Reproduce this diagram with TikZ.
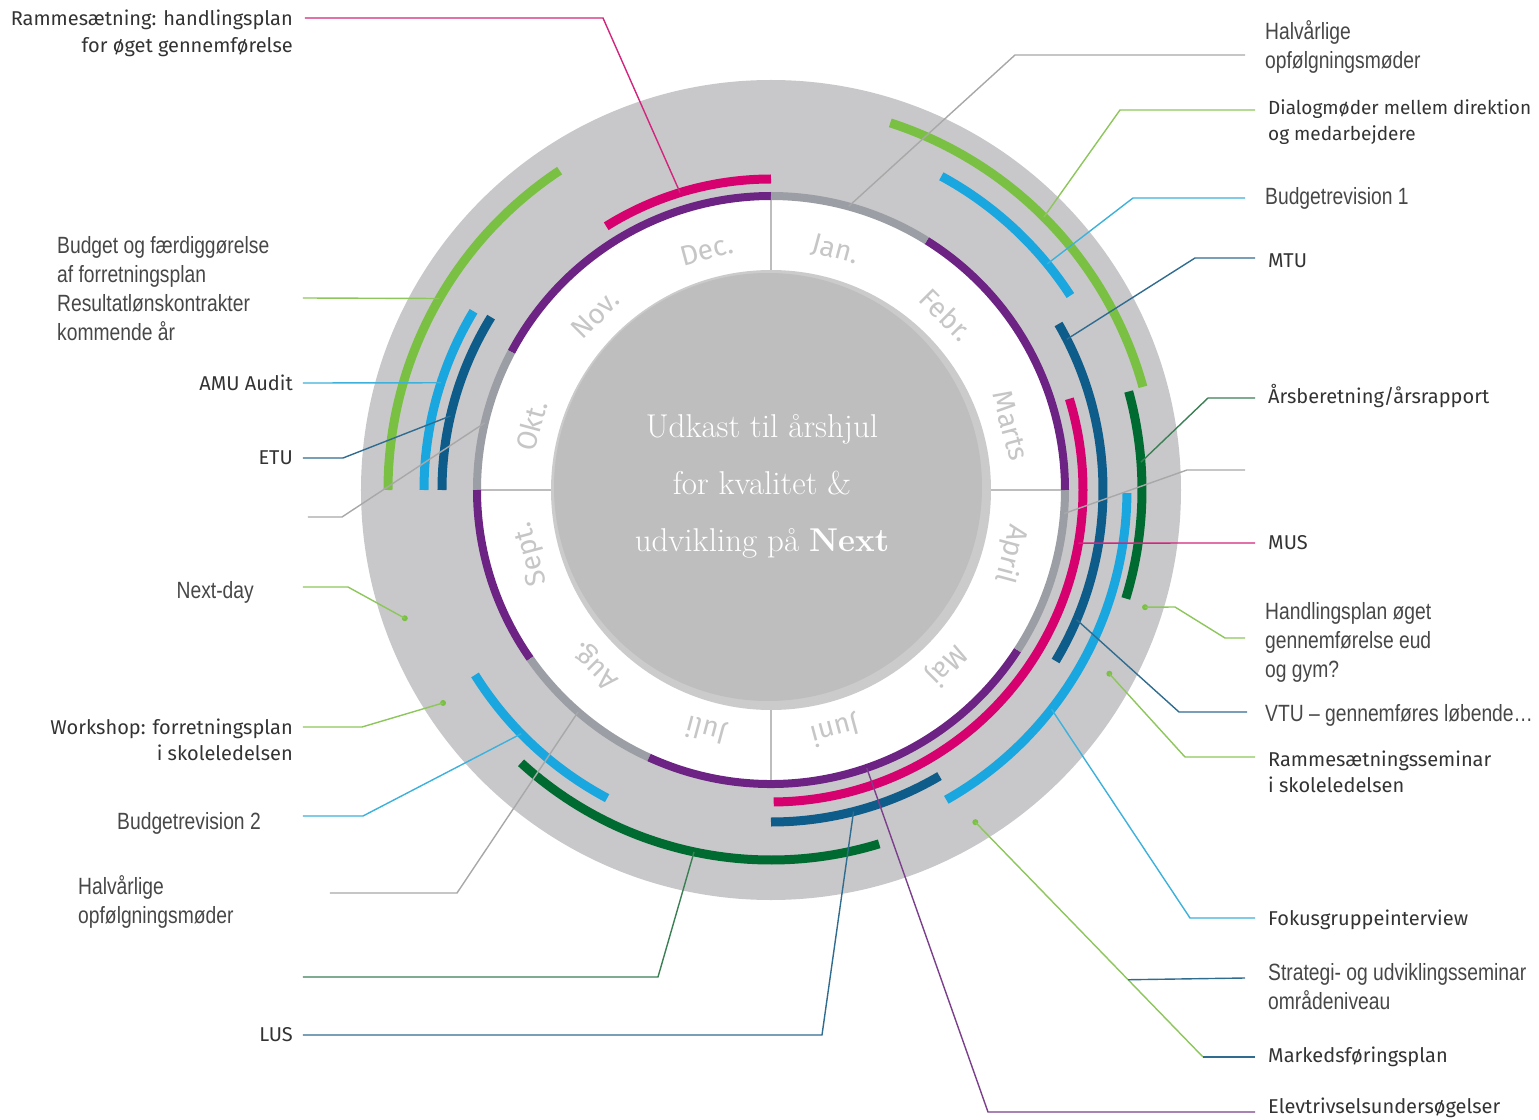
\documentclass[tikz,border=0pt]{standalone}
\usepackage{fontspec}
\usepackage{xcolor}
\usetikzlibrary{positioning,calc}

\newfontfamily\dinfont{Fira Sans}
\newfontfamily\narrowfont[FakeStretch=0.82]{Liberation Sans}

\definecolor{wheelgray}{HTML}{C8C8CA}
\definecolor{rimgray}{HTML}{CBCBCB}
\definecolor{diskgray}{HTML}{BEBEBE}
\definecolor{divgray}{HTML}{BDBDBD}
\definecolor{monthtext}{HTML}{C6C6C6}
\definecolor{dintext}{HTML}{333333}
\definecolor{narrowtext}{HTML}{474747}
\definecolor{mpurple}{HTML}{6C2383}
\definecolor{mgray}{HTML}{9B9EA5}
\definecolor{lgreen}{HTML}{7AC143}
\definecolor{lblue}{HTML}{1AA7DF}
\definecolor{dblue}{HTML}{0E5C8A}
\definecolor{magenta}{HTML}{D6006E}
\definecolor{dgreen}{HTML}{006B30}
\definecolor{lgreenL}{HTML}{8DC65A}
\definecolor{lblueL}{HTML}{3CB1DB}
\definecolor{dblueL}{HTML}{2F6C90}
\definecolor{magentaL}{HTML}{D2257D}
\definecolor{dgreenL}{HTML}{3B7F55}
\definecolor{grayL}{HTML}{A8A8A8}
\definecolor{purpleL}{HTML}{7B3F8C}

\begin{document}
\begin{tikzpicture}[x=1pt,y=1pt,
	arcline/.style={line width=9pt},
	ringline/.style={line width=8pt},
	leader/.style={line width=1.4pt},
	divider/.style={draw=divgray,line width=1.2pt},
	dinlbl/.style={font=\dinfont\fontsize{20}{26.5}\selectfont,text=dintext,inner sep=0pt},
	narrowlbl/.style={font=\narrowfont\fontsize{23.5}{29}\selectfont,text=narrowtext,inner sep=0pt},
	monthlbl/.style={font=\dinfont\fontsize{28}{28}\selectfont,text=monthtext,inner sep=0pt},
	centertxt/.style={font=\fontsize{33}{57}\selectfont,text=white,align=center,inner sep=0pt},
	dot/.style={circle,fill=lgreen,inner sep=0pt,minimum size=6pt}]
	\useasboundingbox (-771,-629) rectangle (768,490);

	\fill[wheelgray] (0,0) circle (410pt);
	\fill[white] (0,0) circle (294pt);
	\fill[rimgray] (0,0) circle (220pt);
	\fill[diskgray] (-3,3) circle (214pt);
	\draw[divider] (0,220) -- (0,290);
	\draw[divider] (0,-220) -- (0,-290);
	\draw[divider] (220,0) -- (290,0);
	\draw[divider] (-220,0) -- (-290,0);

	\draw[ringline,mpurple] (90:294pt) arc (90:152:294pt);
	\draw[ringline,mgray] (152:294pt) arc (152:180:294pt);
	\draw[ringline,mpurple] (180:294pt) arc (180:215:294pt);
	\draw[ringline,mgray] (215:294pt) arc (215:245.5:294pt);
	\draw[ringline,mpurple] (245.5:294pt) arc (245.5:327:294pt);
	\draw[ringline,mgray] (-33:294pt) arc (-33:0:294pt);
	\draw[ringline,mpurple] (0:294pt) arc (0:58:294pt);
	\draw[ringline,mgray] (58:294pt) arc (58:90:294pt);

	\node[monthlbl,rotate=-15] (m_jan) at (75:248pt) {Jan.};
	\node[monthlbl,rotate=-45] (m_feb) at (45:248pt) {Febr.};
	\node[monthlbl,rotate=-75] (m_mar) at (15:248pt) {Marts};
	\node[monthlbl,rotate=-105] (m_apr) at (-15:248pt) {April};
	\node[monthlbl,rotate=-135] (m_maj) at (-45:248pt) {Maj};
	\node[monthlbl,rotate=-165] (m_jun) at (-75:248pt) {Juni};
	\node[monthlbl,rotate=165] (m_jul) at (-105:248pt) {Juli};
	\node[monthlbl,rotate=135] (m_aug) at (-135:248pt) {Aug.};
	\node[monthlbl,rotate=105] (m_sep) at (-165:248pt) {Sept.};
	\node[monthlbl,rotate=75] (m_okt) at (165:248pt) {Okt.};
	\node[monthlbl,rotate=45] (m_nov) at (135:248pt) {Nov.};
	\node[monthlbl,rotate=15] (m_dec) at (105:248pt) {Dec.};

	\node[centertxt] (title) at (-9,4) {Udkast til årshjul\\for kvalitet \&\\udvikling på \textbf{Next}};

	\draw[arcline,lgreen] (72:386pt) arc (72:15.5:386pt);
	\draw[arcline,lblue] (61.5:357pt) arc (61.5:33:357pt);
	\draw[arcline,dblue] (30:332pt) arc (30:-31:332pt);
	\draw[arcline,magenta] (17:312pt) arc (17:-89.5:312pt);
	\draw[arcline,dgreen] (15.4:371pt) arc (15.4:-17:371pt);
	\draw[arcline,lblue] (-0.5:356pt) arc (-0.5:-60.5:356pt);
	\draw[arcline,dblue] (-59.5:332pt) arc (-59.5:-90:332pt);
	\draw[arcline,lblue] (212:349pt) arc (212:242:349pt);
	\draw[arcline,dgreen] (227.5:370pt) arc (227.5:287:370pt);
	\draw[arcline,lgreen] (123.5:383pt) arc (123.5:180:383pt);
	\draw[arcline,lblue] (149:347pt) arc (149:180:347pt);
	\draw[arcline,dblue] (148.3:329pt) arc (148.3:180:329pt);
	\draw[arcline,magenta] (90:311pt) arc (90:122:311pt);

	\coordinate (s_halv_r) at (474,435);
	\coordinate (k_halv_r) at (244,435);
	\coordinate (a_halv_r) at (74.7:294pt);
	\node[narrowlbl,align=left] (t_halv_r) [right=20pt of s_halv_r,yshift=8.5pt] {Halvårlige\\opfølgningsmøder};
	\draw[leader,grayL] (s_halv_r) -- (k_halv_r) -- (a_halv_r);

	\coordinate (s_dialog) at (484,380);
	\coordinate (k_dialog) at (349,380);
	\coordinate (a_dialog) at (45:386pt);
	\node[dinlbl,align=left,font=\dinfont\fontsize{19}{26.5}\selectfont] (t_dialog) [right=13pt of s_dialog,yshift=-12pt] {Dialogmøder mellem direktion\\og medarbejdere};
	\draw[leader,lgreenL] (s_dialog) -- (k_dialog) -- (a_dialog);

	\coordinate (s_budrev1) at (474,292);
	\coordinate (k_budrev1) at (362,292);
	\coordinate (a_budrev1) at (39.3:357pt);
	\node[narrowlbl] (t_budrev1) [right=20pt of s_budrev1] {Budgetrevision 1};
	\draw[leader,lblueL] (s_budrev1) -- (k_budrev1) -- (a_budrev1);

	\coordinate (s_mtu) at (484,232);
	\coordinate (k_mtu) at (424,232);
	\coordinate (a_mtu) at (27:332pt);
	\node[dinlbl] (t_mtu) [right=13pt of s_mtu,yshift=-3pt] {MTU};
	\draw[leader,dblueL] (s_mtu) -- (k_mtu) -- (a_mtu);

	\coordinate (s_aars) at (484,92);
	\coordinate (k_aars) at (437,92);
	\coordinate (a_aars) at (4.3:371pt);
	\node[dinlbl] (t_aars) [right=13pt of s_aars,yshift=2pt] {Årsberetning/årsrapport};
	\draw[leader,dgreenL] (s_aars) -- (k_aars) -- (a_aars);

	\coordinate (s_gray_r) at (474,20);
	\coordinate (k_gray_r) at (416,20);
	\coordinate (a_gray_r) at (-4.6:294pt);
	\draw[leader,grayL] (s_gray_r) -- (k_gray_r) -- (a_gray_r);

	\coordinate (s_mus) at (484,-53);
	\coordinate (a_mus) at (-9.8:312pt);
	\node[dinlbl] (t_mus) [right=13pt of s_mus] {MUS};
	\draw[leader,magentaL] (s_mus) -- (a_mus);

	\node[dot] (d_handl) at (-17.4:392pt) {};
	\coordinate (s_handl) at (474,-148);
	\coordinate (k_handl) at (454,-148);
	\coordinate (j_handl) at (404,-117);
	\node[narrowlbl,align=left] (t_handl) [right=20pt of s_handl,yshift=-4pt] {Handlingsplan øget\\gennemførelse eud\\og gym?};
	\draw[leader,lgreenL] (s_handl) -- (k_handl) -- (j_handl) -- (d_handl.center);

	\coordinate (s_vtu) at (476,-222);
	\coordinate (k_vtu) at (408,-222);
	\coordinate (a_vtu) at (-23:332pt);
	\node[narrowlbl] (t_vtu) [right=18pt of s_vtu,yshift=-3pt] {VTU – gennemføres løbende…};
	\draw[leader,dblueL] (s_vtu) -- (k_vtu) -- (a_vtu);

	\node[dot] (d_rsem) at (-28.5:385pt) {};
	\coordinate (s_rsem) at (484,-267);
	\coordinate (k_rsem) at (414,-267);
	\node[dinlbl,align=left] (t_rsem) [right=13pt of s_rsem,yshift=-15pt] {Rammesætningsseminar\\i skoleledelsen};
	\draw[leader,lgreenL] (s_rsem) -- (k_rsem) -- (d_rsem.center);

	\coordinate (s_fokus) at (484,-428);
	\coordinate (k_fokus) at (419,-428);
	\coordinate (a_fokus) at (-38:356pt);
	\node[dinlbl] (t_fokus) [right=13pt of s_fokus,yshift=-2pt] {Fokusgruppeinterview};
	\draw[leader,lblueL] (s_fokus) -- (k_fokus) -- (a_fokus);

	\node[dot] (d_marked) at (-58.4:390pt) {};
	\coordinate (s_marked) at (484,-567);
	\coordinate (k_marked) at (432,-567);
	\node[dinlbl] (t_marked) [right=13pt of s_marked] {Markedsføringsplan};
	\draw[leader,lgreenL] (d_marked.center) -- (k_marked);
	\draw[leader,dblueL] (k_marked) -- (s_marked);

	\coordinate (j_strat) at ($(d_marked.center)!0.671!(k_marked)$);
	\coordinate (s_strat) at (474,-488);
	\node[narrowlbl,align=left] (t_strat) [right=23pt of s_strat,yshift=-9pt] {Strategi- og udviklingsseminar\\områdeniveau};
	\draw[leader,dblueL] (j_strat) -- (s_strat);

	\coordinate (s_elev) at (484,-622);
	\coordinate (k_elev) at (217,-622);
	\coordinate (a_elev) at (-71:294pt);
	\node[dinlbl] (t_elev) [right=13pt of s_elev,yshift=4pt] {Elevtrivselsundersøgelser};
	\draw[leader,purpleL] (s_elev) -- (k_elev) -- (a_elev);

	\coordinate (s_ramme) at (-466,472);
	\coordinate (k_ramme) at (-168,472);
	\coordinate (a_ramme) at (107:311pt);
	\node[dinlbl,align=right] (t_ramme) [left=12pt of s_ramme,yshift=-15.5pt] {Rammesætning: handlingsplan\\for øget gennemførelse};
	\draw[leader,magentaL] (s_ramme) -- (k_ramme) -- (a_ramme);

	\coordinate (s_budget) at (-468,192);
	\coordinate (a_budget) at (150:383pt);
	\node[narrowlbl,align=left,anchor=west] (t_budget) at (-714,201.5) {Budget og færdiggørelse\\af forretningsplan\\Resultatlønskontrakter\\kommende år};
	\draw[leader,lgreenL] (s_budget) -- (a_budget);

	\coordinate (s_amu) at (-468,107);
	\coordinate (a_amu) at (162:347pt);
	\node[dinlbl] (t_amu) [left=10pt of s_amu] {AMU Audit};
	\draw[leader,lblueL] (s_amu) -- (a_amu);

	\coordinate (s_etu) at (-468,32);
	\coordinate (k_etu) at (-428,32);
	\coordinate (a_etu) at (167:329pt);
	\node[dinlbl] (t_etu) [left=10pt of s_etu] {ETU};
	\draw[leader,dblueL] (s_etu) -- (k_etu) -- (a_etu);

	\coordinate (s_gray_l) at (-463,-27);
	\coordinate (k_gray_l) at (-429,-27);
	\coordinate (a_gray_l) at (166.8:294pt);
	\draw[leader,grayL] (s_gray_l) -- (k_gray_l) -- (a_gray_l);

	\node[dot] (d_next) at (199.3:388pt) {};
	\coordinate (s_next) at (-468,-97);
	\coordinate (k_next) at (-423,-97);
	\node[narrowlbl] (t_next) [left=49pt of s_next,yshift=-5pt] {Next-day};
	\draw[leader,lgreenL] (s_next) -- (k_next) -- (d_next.center);

	\node[dot] (d_work) at (213:391pt) {};
	\coordinate (s_work) at (-468,-237);
	\coordinate (k_work) at (-409,-237);
	\node[dinlbl,align=right] (t_work) [left=10pt of s_work,yshift=-13pt] {Workshop: forretningsplan\\i skoleledelsen};
	\draw[leader,lgreenL] (s_work) -- (k_work) -- (d_work.center);

	\coordinate (s_budrev2) at (-468,-326);
	\coordinate (k_budrev2) at (-408,-326);
	\coordinate (a_budrev2) at (224.3:349pt);
	\node[narrowlbl] (t_budrev2) [left=42pt of s_budrev2,yshift=-7pt] {Budgetrevision 2};
	\draw[leader,lblueL] (s_budrev2) -- (k_budrev2) -- (a_budrev2);

	\coordinate (s_halv_l) at (-441,-403);
	\coordinate (k_halv_l) at (-314,-403);
	\coordinate (a_halv_l) at (229:294pt);
	\node[narrowlbl,align=left,anchor=west] (t_halv_l) at (-693,-412) {Halvårlige\\opfølgningsmøder};
	\draw[leader,grayL] (s_halv_l) -- (k_halv_l) -- (a_halv_l);

	\coordinate (s_dgreen) at (-468,-487);
	\coordinate (k_dgreen) at (-113,-487);
	\coordinate (a_dgreen) at (258:370pt);
	\draw[leader,dgreenL] (s_dgreen) -- (k_dgreen) -- (a_dgreen);

	\coordinate (s_lus) at (-468,-545);
	\coordinate (k_lus) at (51,-545);
	\coordinate (a_lus) at (-75.6:332pt);
	\node[dinlbl] (t_lus) [left=10pt of s_lus] {LUS};
	\draw[leader,dblueL] (s_lus) -- (k_lus) -- (a_lus);
\end{tikzpicture}
\end{document}
